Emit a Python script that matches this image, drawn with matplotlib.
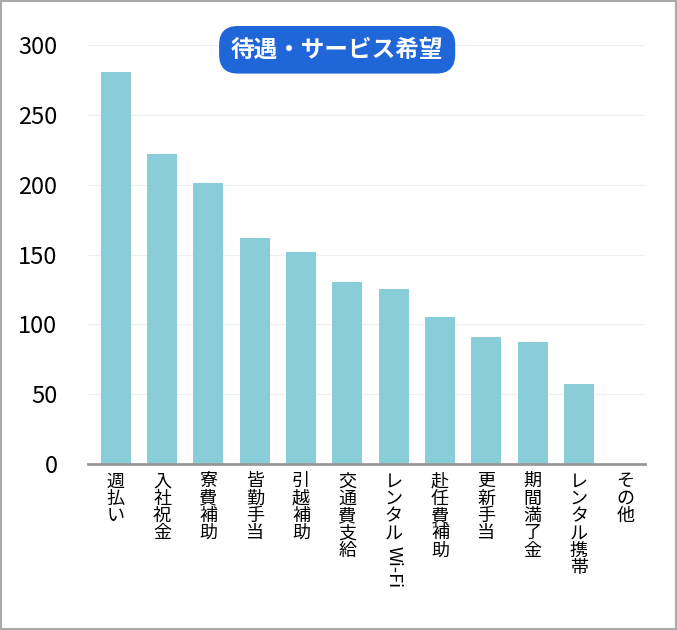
import matplotlib
matplotlib.use("Agg")
import matplotlib.pyplot as plt
from matplotlib.patches import Rectangle

plt.rcParams["font.family"] = ["Noto Sans CJK JP", "DejaVu Sans"]

CATEGORIES = ["週払い", "入社祝金", "寮費補助", "皆勤手当", "引越補助", "交通費支給",
              "レンタルWi-Fi", "赴任費補助", "更新手当", "期間満了金", "レンタル携帯", "その他"]
VALUES = [281, 222, 201, 162, 152, 130, 125, 105, 91, 87, 57, 0]
TITLE = "待遇・サービス希望"
BAR_COLOR = "#89cdd9"

fig = plt.figure(figsize=(6.77, 6.30), dpi=100)
fig.patches.append(Rectangle((0.002, 0.002), 0.996, 0.996, transform=fig.transFigure,
                             fill=False, edgecolor="#aaaaaa", linewidth=1.5))
ax = fig.add_axes([0.13, 0.2635, 0.823, 0.665])

x = range(len(VALUES))
ax.bar(x, VALUES, width=0.65, color=BAR_COLOR, zorder=2)
ax.set_xlim(-0.6, 11.43)
ax.set_ylim(0, 300)
ax.set_yticks(range(0, 301, 50))
ax.tick_params(axis="y", length=0, labelsize=17, pad=22)
ax.tick_params(axis="x", length=0, pad=6)
ax.grid(axis="y", color="#eeeeee", linewidth=0.8, zorder=0)
for s in ["top", "right", "left"]:
    ax.spines[s].set_visible(False)
ax.spines["bottom"].set_color("#999999")
ax.spines["bottom"].set_linewidth(2)


def vertical(label):
    # latin runs are drawn rotated separately, only stack the kana/kanji part
    head = label.split("Wi-Fi")[0]
    return "\n".join(head)


ax.set_xticks(list(x))
ax.set_xticklabels([vertical(c) for c in CATEGORIES], fontsize=13, va="top",
                   linespacing=0.95)
for i, c in enumerate(CATEGORIES):
    if "Wi-Fi" in c:
        ax.annotate("Wi-Fi", xy=(i, 0), xycoords="data", xytext=(0, -59),
                    textcoords="offset points", rotation=-90, ha="center", va="top",
                    fontsize=13, annotation_clip=False)

fig.text(0.498, 0.921, TITLE, ha="center", va="center", fontsize=17, fontweight="bold",
         color="white",
         bbox=dict(boxstyle="round,pad=0.5,rounding_size=0.8", facecolor="#1f66d9",
                   edgecolor="none"))

fig.savefig("out.png", dpi=100)
